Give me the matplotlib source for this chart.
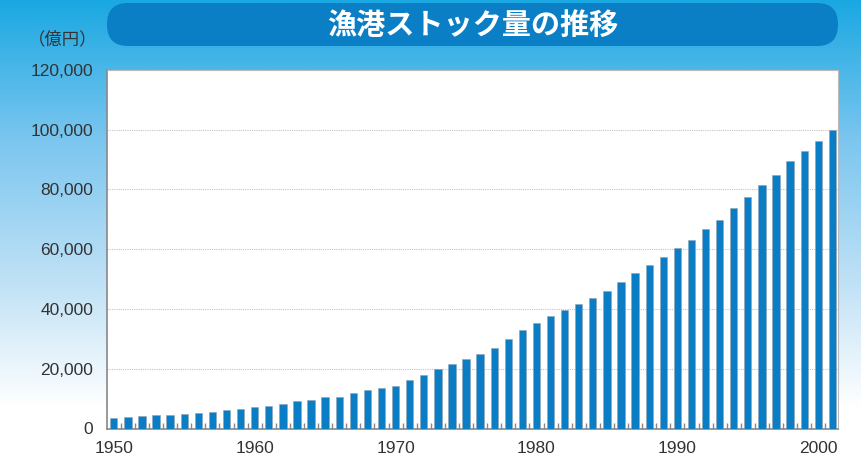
import numpy as np
import matplotlib.pyplot as plt
from matplotlib.patches import FancyBboxPatch
from matplotlib.colors import LinearSegmentedColormap
from matplotlib.ticker import FuncFormatter, MultipleLocator

plt.rcParams['font.family'] = ['Liberation Sans', 'DejaVu Sans']

years = list(range(1950, 2002))
# 漁港ストック量（億円）
stock = [3400, 3800, 4150, 4550, 4480, 4900, 5250, 5580, 6140, 6470,
         7040, 7570, 8230, 9230, 9460, 10460, 10700, 11900, 12720, 13710,
         14280, 16270, 17930, 19950, 21580, 23240, 25000, 27100, 29880, 33000,
         35200, 37520, 39700, 41600, 43700, 46150, 48920, 52040, 54710, 57500,
         60500, 63200, 66900, 69900, 73700, 77400, 81600, 84800, 89500, 93000,
         96300, 100000]
year_ticks = [1950, 1960, 1970, 1980, 1990, 2000]

title = '漁港ストック量の推移'
unit = '（億円）'

W, H = 861, 468
fig = plt.figure(figsize=(W / 100, H / 100), dpi=100)

# background in pixel coordinates: gradient from blue at top to white
bg = fig.add_axes([0, 0, 1, 1], zorder=-10)
cmap = LinearSegmentedColormap.from_list(
    'bg', [(0, '#1aa8e2'), (0.3, '#7cc6ef'), (0.6, '#bfe1f6'), (0.87, '#ffffff'), (1, '#ffffff')])
grad = np.linspace(0, 1, 256).reshape(-1, 1)
bg.imshow(grad, aspect='auto', cmap=cmap, extent=[0, W, H, 0])
bg.set_xlim(0, W)
bg.set_ylim(H, 0)
bg.axis('off')

# title box
bg.add_patch(FancyBboxPatch((107, 3), 731, 43,
                            boxstyle='round,pad=0,rounding_size=21',
                            facecolor='#0a7fc6', edgecolor='none'))
bg.text(472.5, 25, title, color='white', fontsize=21, fontweight='bold',
        ha='center', va='center', family=['Noto Sans CJK JP', 'DejaVu Sans'])
bg.text(97, 39, unit, color='#333333', fontsize=12.5, ha='right', va='center',
        family=['Noto Sans CJK JP', 'DejaVu Sans'])

ax = fig.add_axes([107 / W, 39.5 / H, (838 - 107) / W, (428.5 - 70) / H])
ax.set_facecolor('white')
ax.bar(years, stock, width=0.52, color='#0a7dc4', edgecolor='#8fa3b3',
       linewidth=0.4, zorder=3)

ax.set_xlim(1949.52, 2001.4)
ax.set_ylim(0, 120000)
ax.yaxis.set_major_locator(MultipleLocator(20000))
ax.yaxis.set_major_formatter(FuncFormatter(lambda v, p: f'{int(v):,}'))
ax.set_xticks(year_ticks)
ax.set_xticks([y + 0.5 for y in years[:-1]], minor=True)
ax.grid(axis='y', color='#c4c4c4', linestyle=(0, (1, 1)), linewidth=0.8, zorder=1)

ax.tick_params(axis='y', length=0, pad=10, labelsize=12.5, labelcolor='#333333')
ax.tick_params(axis='x', which='major', length=0, pad=9, labelsize=12.5,
               labelcolor='#333333')
ax.tick_params(axis='x', which='minor', length=4, direction='in',
               color='#888888', width=1)

for s in ['top', 'right']:
    ax.spines[s].set_color('#bbbbbb')
    ax.spines[s].set_linewidth(0.8)
for s in ['left', 'bottom']:
    ax.spines[s].set_color('#888888')
    ax.spines[s].set_linewidth(1.2)

fig.savefig('out.png', dpi=100)
